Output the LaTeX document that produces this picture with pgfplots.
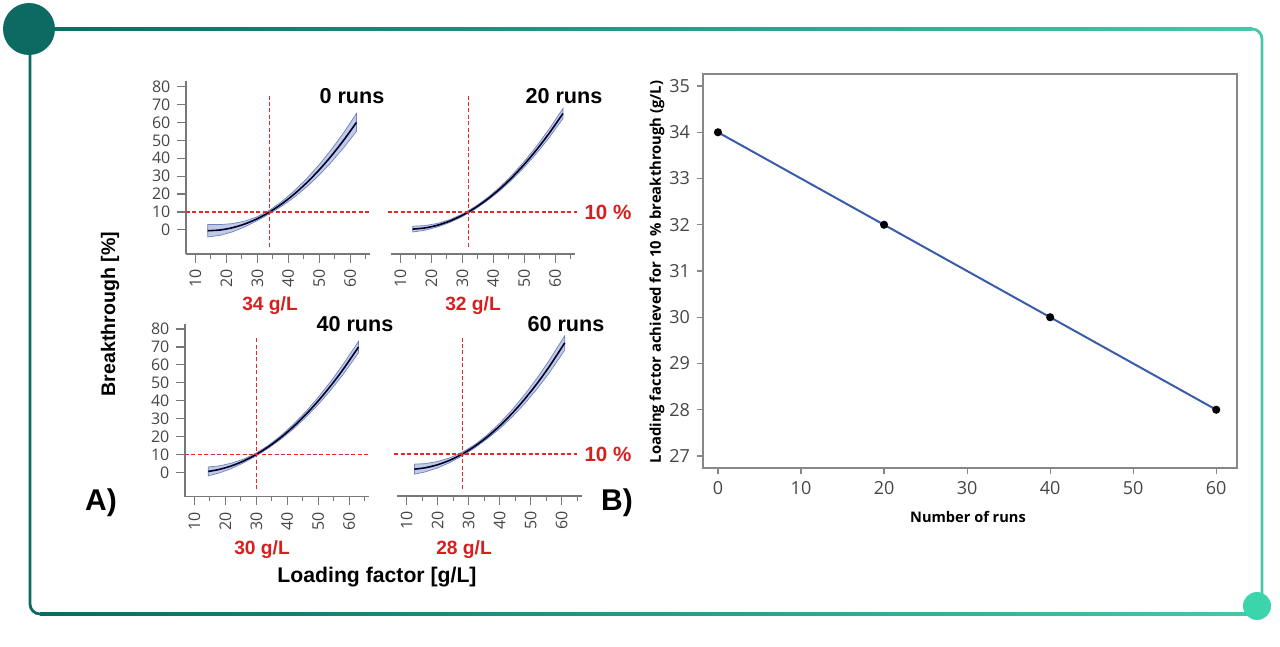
\documentclass[border=0pt]{standalone}
\usepackage{fontspec}
\setmainfont{Open Sans}
\newfontfamily\arialf{Liberation Sans}
\usepackage{pgfplots}
\pgfplotsset{compat=1.18}
\definecolor{tealdark}{RGB}{12,106,98}
\definecolor{mint}{RGB}{70,200,168}
\definecolor{mintdot}{RGB}{60,212,170}
\definecolor{rd}{RGB}{214,32,32}
\definecolor{rdl}{RGB}{232,40,40}
\definecolor{axgray}{RGB}{120,120,120}
\definecolor{bgray}{RGB}{135,135,135}
\definecolor{tickgray}{RGB}{70,70,70}
\definecolor{bandfill}{RGB}{186,196,228}
\definecolor{bandedge}{RGB}{110,130,195}
\definecolor{lineblue}{RGB}{58,92,170}

\pgfplotsset{
  small/.style={
    scale only axis, width=92.2pt, height=86.4pt,
    xmin=7, xmax=66.5, ymin=-13.5, ymax=83,
    axis x line*=bottom,
    axis line style={draw=axgray, line width=0.6pt},
    xtick={10,20,...,60}, minor xtick={15,25,...,65},
    ytick={0,10,...,80},
    tick align=outside,
    major tick length=4.3pt, minor tick length=2.4pt,
    tick style={axgray, line width=0.6pt},
    tick label style={font=\fontsize{8}{8}\selectfont, text=tickgray},
    x tick label style={rotate=90, anchor=east},
    /pgf/number format/assume math mode=true,
    clip=false,
    anchor=south west,
  },
  withy/.style={axis y line*=left},
  noy/.style={axis y line=none, ytick=\empty},
  band/.style={draw=bandedge, line width=0.35pt, fill=bandfill, fill opacity=0.9},
  centre/.style={black!85!blue, line width=0.8pt, smooth},
  rdash/.style={draw=rdl, line width=0.65pt, dash pattern=on 2pt off 1.2pt},
}

\begin{document}
\begin{tikzpicture}
\begin{scope}[x=0.5pt,y=-0.5pt]
  \path[use as bounding box] (0,0) rectangle (1280,647);
  % frame
  \shade[left color=tealdark, right color=mint] (29,27.6) rectangle (1252,30.4);
  \draw[mint, line width=1.4pt, rounded corners=5] (1250,29) -- (1262,29) -- (1262,600);
  \draw[tealdark, line width=1.4pt, rounded corners=5] (30,29) -- (30,614) -- (42,614);
  \shade[left color=tealdark, right color=mint] (40,612.6) rectangle (1250,615.4);
  \fill[tealdark] (29,29) circle (26);
  \fill[mintdot] (1257,606) circle (14);
  % anchors of the axes
  \coordinate (a1) at (186,254);
  \coordinate (a2) at (391,254);
  \coordinate (a3) at (185,496.5);
  \coordinate (a4) at (397.4,496);
  \coordinate (bsw) at (703,468);
  % texts of panel A
  \node[font=\arialf\bfseries\fontsize{10.8}{12}\selectfont] at (352,96) {0 runs};
  \node[font=\arialf\bfseries\fontsize{10.8}{12}\selectfont] at (564,96) {20 runs};
  \node[font=\arialf\bfseries\fontsize{10.8}{12}\selectfont] at (355,324) {40 runs};
  \node[font=\arialf\bfseries\fontsize{10.8}{12}\selectfont] at (566,324) {60 runs};
  \node[font=\arialf\bfseries\fontsize{9.6}{11}\selectfont, text=rd] at (270,306) {34 g/L};
  \node[font=\arialf\bfseries\fontsize{9.6}{11}\selectfont, text=rd] at (473,306) {32 g/L};
  \node[font=\arialf\bfseries\fontsize{9.6}{11}\selectfont, text=rd] at (262,550) {30 g/L};
  \node[font=\arialf\bfseries\fontsize{9.6}{11}\selectfont, text=rd] at (464,550) {28 g/L};
  \node[font=\arialf\bfseries\fontsize{10.3}{12}\selectfont, text=rd] at (608,212) {10 \%};
  \node[font=\arialf\bfseries\fontsize{10.3}{12}\selectfont, text=rd] at (608,454) {10 \%};
  \node[rotate=90, font=\arialf\bfseries\fontsize{9.8}{11}\selectfont] at (110,314) {Breakthrough [\%]};
  \node[font=\arialf\bfseries\fontsize{10.6}{12}\selectfont] at (377,577) {Loading factor [g/L]};
  \node[font=\arialf\bfseries\fontsize{15}{17}\selectfont] at (101,503) {A)};
  \node[font=\arialf\bfseries\fontsize{15}{17}\selectfont] at (617,503) {B)};
  % texts of panel B
  \node[rotate=90, font=\bfseries\fontsize{7.4}{8}\selectfont] at (657,272) {Loading factor achieved for 10 \% breakthrough (g/L)};
  \node[font=\bfseries\fontsize{7.3}{8}\selectfont] at (968,517) {Number of runs};
\end{scope}

% ---- 0 runs
\begin{axis}[small, withy, at={(a1)}]
\addplot[band] coordinates {(14,3.0) (18,2.92) (22,3.48) (26,4.88) (30,7.32) (34,11.0) (38,15.92) (42,21.88) (46,28.68) (50,36.42) (54,45.0) (58,54.52) (62,64.99)
 (62,54.99) (58,46.12) (54,38.0) (50,30.62) (46,24.08) (42,18.28) (38,13.32) (34,9.0) (30,5.12) (26,1.68) (22,-1.12) (18,-3.08) (14,-4.0)} -- cycle;
\addplot[centre] coordinates {(14,-0.50) (18,-0.08) (22,1.18) (26,3.28) (30,6.22) (34,10.00) (38,14.62) (42,20.08) (46,26.38) (50,33.52) (54,41.50) (58,50.32) (62,59.99)};
\addplot[rdash] coordinates {(34,-9.5) (34,75.5)};
\addplot[rdash] coordinates {(7,10) (66.5,10)};
\end{axis}

% ---- 20 runs
\begin{axis}[small, noy, at={(a2)}]
\addplot[band] coordinates {(14,2.0) (18,2.37) (22,3.57) (26,5.72) (30,8.8) (34,12.81) (38,17.77) (42,23.66) (46,30.49) (50,38.16) (54,46.77) (58,56.22) (62.5,67.79)
 (62.5,62.19) (58,51.42) (54,42.77) (50,34.96) (46,27.89) (42,21.66) (38,16.17) (34,11.41) (30,7.4) (26,4.12) (22,1.57) (18,-0.23) (14,-1.2)} -- cycle;
\addplot[centre] coordinates {(14,0.40) (18,1.07) (22,2.57) (26,4.92) (30,8.10) (34,12.11) (38,16.97) (42,22.66) (46,29.19) (50,36.56) (54,44.77) (58,53.82) (62.5,64.99)};
\addplot[rdash] coordinates {(32,-9.5) (32,75.5)};
\addplot[rdash] coordinates {(6,10) (67,10)};
\end{axis}

% ---- 40 runs
\begin{axis}[small, withy, at={(a3)}]
\addplot[band] coordinates {(14.5,3.0) (18,3.6) (22,5.11) (26,7.41) (30,10.8) (34,15.19) (38,20.58) (42,26.86) (46,33.93) (50,41.9) (54,50.67) (58,60.23) (63,73.2)
 (63,66.8) (58,54.63) (54,45.87) (50,37.9) (46,30.73) (42,24.26) (38,18.58) (34,13.59) (30,9.2) (26,5.41) (22,2.11) (18,-0.4) (14.5,-2.0)} -- cycle;
\addplot[centre] coordinates {(14.5,0.50) (18,1.60) (22,3.61) (26,6.41) (30,10.00) (34,14.39) (38,19.58) (42,25.56) (46,32.33) (50,39.90) (54,48.27) (58,57.43) (63,70.00)};
\addplot[rdash] coordinates {(30,-9.5) (30,75.5)};
\addplot[rdash] coordinates {(7,10) (66.5,10)};
\end{axis}

% ---- 60 runs
\begin{axis}[small, noy, at={(a4)}]
\addplot[band] coordinates {(12.5,4.3) (16,4.57) (20,5.77) (24,7.84) (28,11.0) (32,15.23) (36,20.64) (40,27.13) (44,34.6) (48,42.94) (52,52.17) (56,62.27) (61,76.0)
 (61,68.0) (56,55.27) (52,46.17) (48,37.94) (44,30.6) (40,24.13) (36,18.44) (32,13.43) (28,9.0) (24,5.24) (20,2.17) (16,-0.03) (12.5,-1.3)} -- cycle;
\addplot[centre] coordinates {(12.5,1.50) (16,2.27) (20,3.97) (24,6.54) (28,10.00) (32,14.33) (36,19.54) (40,25.63) (44,32.60) (48,40.44) (52,49.17) (56,58.77) (61,72.00)};
\addplot[rdash] coordinates {(28,-9.5) (28,75.5)};
\addplot[rdash] coordinates {(6,10) (65,10)};
\end{axis}

% ---- panel B
\begin{axis}[at={(bsw)}, anchor=south west, scale only axis, width=267pt, height=197pt,
  xmin=-1.8, xmax=62.5, ymin=26.74, ymax=35.26,
  xtick={0,10,...,60}, ytick={27,28,...,35},
  tick pos=left, tick align=outside, major tick length=3pt,
  axis line style={draw=bgray, line width=0.6pt},
  tick style={bgray, line width=0.6pt},
  tick label style={font=\fontsize{9}{9}\selectfont, text=tickgray},
  /pgf/number format/assume math mode=true,
]
\addplot[lineblue, line width=1pt, mark=*, mark size=1.5pt, mark options={fill=black, draw=black}] coordinates {(0,34) (20,32) (40,30) (60,28)};
\end{axis}
\end{tikzpicture}
\end{document}
